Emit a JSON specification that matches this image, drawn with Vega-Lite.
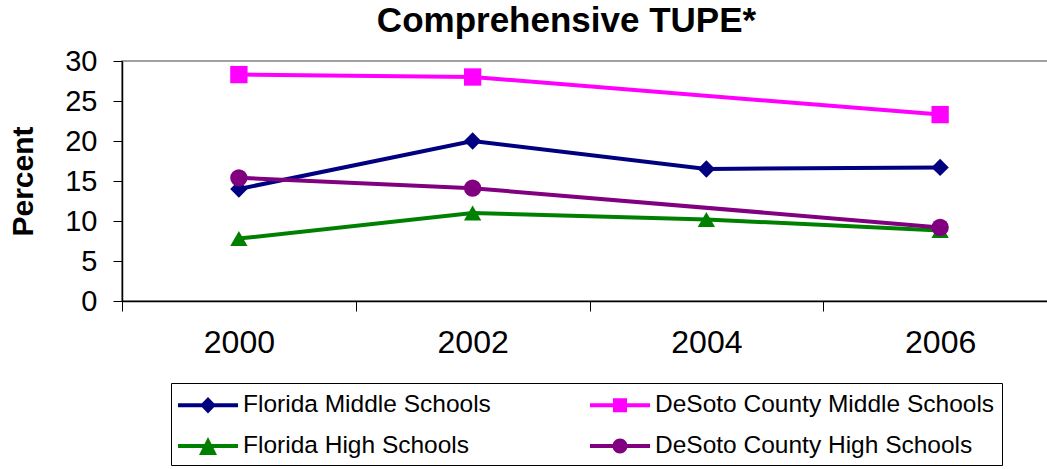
{
  "$schema": "https://vega.github.io/schema/vega-lite/v6.json",
  "autosize": {"type": "none"},
  "width": 935,
  "height": 240,
  "padding": {"left": 122, "top": 61, "right": 0, "bottom": 168},
  "background": "white",
  "config": {
    "view": {"stroke": "#a0a0a0", "strokeWidth": 2},
    "font": "Liberation Sans"
  },
  "title": {
    "text": "Comprehensive TUPE*",
    "font": "Liberation Sans",
    "fontSize": 35,
    "fontWeight": "bold",
    "color": "black",
    "anchor": "middle",
    "dx": -23,
    "offset": 8
  },
  "data": {
    "values": [
      {"series": "Florida Middle Schools", "year": "2000", "value": 14.0},
      {"series": "Florida Middle Schools", "year": "2002", "value": 20.0},
      {"series": "Florida Middle Schools", "year": "2004", "value": 16.5},
      {"series": "Florida Middle Schools", "year": "2006", "value": 16.7},
      {"series": "DeSoto County Middle Schools", "year": "2000", "value": 28.3},
      {"series": "DeSoto County Middle Schools", "year": "2002", "value": 28.0},
      {"series": "DeSoto County Middle Schools", "year": "2006", "value": 23.3},
      {"series": "Florida High Schools", "year": "2000", "value": 7.8},
      {"series": "Florida High Schools", "year": "2002", "value": 11.0},
      {"series": "Florida High Schools", "year": "2004", "value": 10.2},
      {"series": "Florida High Schools", "year": "2006", "value": 8.8},
      {"series": "DeSoto County High Schools", "year": "2000", "value": 15.4},
      {"series": "DeSoto County High Schools", "year": "2002", "value": 14.1},
      {"series": "DeSoto County High Schools", "year": "2006", "value": 9.2}
    ]
  },
  "encoding": {
    "x": {
      "field": "year",
      "type": "ordinal",
      "scale": {"domain": ["2000", "2002", "2004", "2006"], "paddingInner": 0, "paddingOuter": 0},
      "axis": {
        "title": null,
        "labelAngle": 0,
        "labelFont": "Liberation Sans",
        "labelFontSize": 32,
        "labelColor": "black",
        "labelPadding": 16,
        "tickBand": "extent",
        "tickSize": 10,
        "tickColor": "black",
        "domainColor": "black",
        "domainWidth": 1.5,
        "grid": false
      }
    },
    "y": {
      "field": "value",
      "type": "quantitative",
      "scale": {"domain": [0, 30], "nice": false, "zero": true},
      "axis": {
        "title": "Percent",
        "titleFont": "Liberation Sans",
        "titleFontSize": 30,
        "titleFontWeight": "bold",
        "titleColor": "black",
        "titlePadding": 26,
        "values": [0, 5, 10, 15, 20, 25, 30],
        "labelFont": "Liberation Sans",
        "labelFontSize": 29,
        "labelColor": "black",
        "labelPadding": 16,
        "tickSize": 9,
        "tickColor": "black",
        "domainColor": "black",
        "domainWidth": 1.5,
        "grid": false
      }
    },
    "color": {
      "field": "series",
      "type": "nominal",
      "scale": {
        "domain": ["Florida Middle Schools", "DeSoto County Middle Schools", "Florida High Schools", "DeSoto County High Schools"],
        "range": ["#000080", "#ff00ff", "#008000", "#800080"]
      },
      "legend": {
        "title": null,
        "orient": "none",
        "direction": "horizontal",
        "legendX": 49,
        "legendY": 322,
        "columns": 2,
        "columnPadding": 99,
        "rowPadding": 14,
        "padding": 7,
        "strokeColor": "black",
        "labelFont": "Liberation Sans",
        "labelFontSize": 24.5,
        "labelColor": "black",
        "labelOffset": 35,
        "labelLimit": 600,
        "symbolSize": 900,
        "symbolStrokeWidth": 0,
        "symbolOpacity": 1,
        "symbolFillColor": "black",
        "symbolType": {"expr": "datum.value == 'Florida Middle Schools' ? 'M-1,-0.133H3V0.133H-1Z M1,-0.55L1.53,0L1,0.55L0.47,0Z' : datum.value == 'DeSoto County Middle Schools' ? 'M-1,-0.133H3V0.133H-1Z M0.53,-0.47H1.47V0.47H0.53Z' : datum.value == 'Florida High Schools' ? 'M-1,-0.133H3V0.133H-1Z M1,-0.6L1.6,0.6H0.4Z' : 'M-1,-0.133H3V0.133H-1Z M0.5,0A0.5,0.5,0,1,1,1.5,0A0.5,0.5,0,1,1,0.5,0Z'"}
      }
    }
  },
  "layer": [
    {
      "mark": {"type": "line", "strokeWidth": 4},
      "encoding": {}
    },
    {
      "mark": {"type": "point", "filled": true, "opacity": 1, "size": 300},
      "encoding": {
        "shape": {
          "field": "series",
          "type": "nominal",
          "scale": {
            "domain": ["DeSoto County High Schools", "DeSoto County Middle Schools", "Florida High Schools", "Florida Middle Schools"],
            "range": ["circle", "square", "triangle-up", "diamond"]
          },
          "legend": null
        }
      }
    }
  ]
}
